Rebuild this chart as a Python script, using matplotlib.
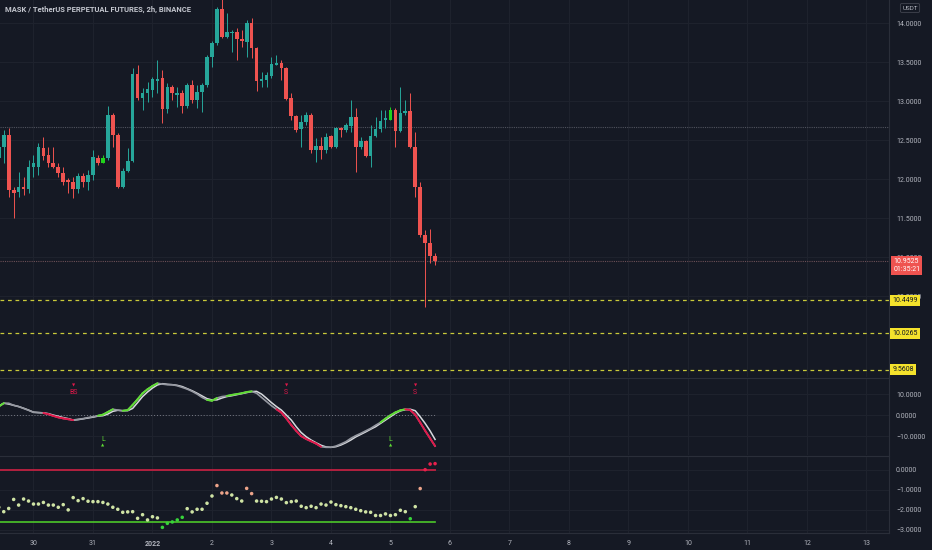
import numpy as np
import pandas as pd
import matplotlib.pyplot as plt
import matplotlib.transforms as mtransforms

plt.rcParams['font.family'] = ['Roboto', 'DejaVu Sans']

# 2h candles MASK/USDT perp, from 29 dec 10:00
times = pd.date_range('2021-12-29 10:00', periods=89, freq='2h')
opens = [12.269, 12.418, 12.568, 11.863, 11.841, 11.906, 11.871, 12.162, 12.162, 12.405,
         12.312, 12.213, 12.162, 12.077, 11.991, 11.970, 11.871, 12.042, 11.970, 12.055,
         12.269, 12.205, 12.269, 12.824, 12.568, 11.897, 12.111, 12.239, 13.350, 13.047,
         13.111, 13.145, 13.264, 13.294, 12.897, 13.179, 13.081, 13.102, 12.940, 13.205,
         13.017, 13.124, 13.209, 13.564, 13.752, 14.179, 13.829, 13.871, 13.893, 13.794,
         13.765, 14.008, 13.688, 13.260, 13.273, 13.324, 13.465, 13.487, 13.431, 13.038,
         12.812, 12.641, 12.735, 12.824, 12.376, 12.427, 12.376, 12.555, 12.418, 12.662,
         12.632, 12.683, 12.803, 12.418, 12.491, 12.299, 12.555, 12.641, 12.760, 12.760,
         12.888, 12.624, 12.846, 12.876, 12.418, 11.906, 11.286, 11.179, 11.017]
highs = [12.461, 12.632, 12.653, 11.906, 12.098, 12.034, 12.248, 12.312, 12.461, 12.547,
         12.418, 12.418, 12.205, 12.162, 12.012, 12.034, 12.077, 12.077, 12.119, 12.376,
         12.312, 12.312, 12.940, 12.854, 12.589, 12.141, 12.397, 13.423, 13.465, 13.166,
         13.252, 13.316, 13.529, 13.401, 13.230, 13.209, 13.188, 13.145, 13.230, 13.273,
         13.209, 13.230, 13.594, 13.777, 14.205, 14.330, 14.128, 13.914, 13.935, 13.914,
         14.042, 14.064, 13.700, 13.380, 13.380, 13.572, 13.594, 13.529, 13.444, 13.102,
         12.824, 12.824, 12.867, 12.846, 12.525, 12.547, 12.589, 12.568, 12.675, 12.675,
         12.718, 13.017, 12.910, 12.547, 12.504, 12.696, 12.803, 12.888, 12.888, 12.931,
         12.910, 13.179, 13.017, 13.102, 12.611, 11.970, 11.350, 11.358, 11.051]
lows = [12.205, 12.205, 11.777, 11.500, 11.777, 11.799, 11.820, 12.034, 12.055, 12.248,
        12.162, 12.141, 12.034, 11.927, 11.820, 11.756, 11.820, 11.906, 11.863, 11.991,
        12.183, 12.205, 12.248, 12.418, 11.884, 11.884, 12.098, 12.226, 13.017, 12.888,
        12.995, 13.060, 13.102, 12.726, 12.846, 13.017, 12.931, 12.854, 12.910, 12.974,
        12.910, 12.867, 13.188, 13.444, 13.722, 13.807, 13.807, 13.636, 13.529, 13.700,
        13.572, 13.551, 13.136, 13.188, 13.188, 13.294, 13.465, 13.273, 13.017, 12.760,
        12.611, 12.418, 12.696, 12.341, 12.226, 12.256, 12.341, 12.397, 12.397, 12.547,
        12.611, 12.611, 12.098, 12.384, 12.290, 12.162, 12.547, 12.611, 12.653, 12.760,
        12.418, 12.611, 12.824, 12.397, 11.777, 11.264, 10.363, 10.923, 10.901]
closes = [12.418, 12.568, 11.863, 11.829, 11.906, 11.871, 12.162, 12.205, 12.418, 12.299,
          12.205, 12.153, 12.077, 11.970, 11.970, 11.871, 12.042, 11.970, 12.055, 12.282,
          12.205, 12.273, 12.824, 12.568, 11.906, 12.111, 12.239, 13.350, 13.047, 13.111,
          13.153, 13.286, 13.286, 12.897, 13.179, 13.102, 13.102, 12.940, 13.205, 13.017,
          13.124, 13.209, 13.564, 13.752, 14.179, 13.820, 13.893, 13.888, 13.794, 13.769,
          14.008, 13.688, 13.260, 13.282, 13.333, 13.478, 13.487, 13.431, 13.025, 12.812,
          12.632, 12.735, 12.824, 12.376, 12.427, 12.376, 12.547, 12.410, 12.662, 12.632,
          12.696, 12.794, 12.418, 12.491, 12.299, 12.555, 12.641, 12.752, 12.782, 12.888,
          12.624, 12.854, 12.876, 12.418, 11.906, 11.286, 11.179, 11.017, 10.9525]

# oscillateur (ligne rapide / lente) et etat de tendance
fast = [4.2, 5.8, 5.8, 4.8, 4.2, 3.3, 2.4, 1.4, 1.3, 1.1,
        0.5, -0.3, -1.0, -1.5, -1.9, -2.3, -1.9, -1.6, -1.1, -0.7,
        -0.2, 0.3, 1.6, 2.9, 2.5, 2.2, 2.5, 5.0, 7.7, 10.6,
        12.5, 14.1, 15.4, 15.0, 14.7, 14.7, 14.2, 13.4, 12.6, 11.5,
        10.2, 8.6, 7.4, 7.0, 8.3, 9.0, 9.3, 9.8, 10.2, 10.6,
        11.2, 11.5, 10.6, 8.6, 6.6, 4.6, 2.9, 1.3, -1.5, -4.7,
        -7.5, -10.0, -11.4, -12.5, -13.6, -15.1, -15.4, -15.4, -14.8, -13.8,
        -12.7, -11.1, -9.8, -8.7, -7.5, -6.3, -4.8, -3.4, -1.6, 0.0,
        1.4, 2.4, 2.9, 2.5, 0.3, -3.5, -7.4, -11.1, -14.8]
slow = [4.5, 5.8, 5.4, 4.8, 4.2, 3.4, 2.5, 1.5, 1.3, 1.2,
        0.8, 0.1, -0.5, -1.1, -1.6, -2.3, -2.1, -1.7, -1.3, -0.9,
        -0.4, -0.2, 0.6, 1.9, 2.4, 2.2, 2.2, 3.3, 6.1, 9.0,
        11.2, 13.1, 14.6, 15.2, 14.9, 14.7, 14.4, 13.8, 12.8, 11.8,
        10.6, 9.3, 8.0, 7.4, 7.4, 8.3, 9.0, 9.4, 9.9, 10.4,
        10.9, 11.4, 11.5, 10.2, 8.2, 6.1, 4.2, 2.5, 0.1, -2.3,
        -5.5, -8.3, -10.3, -11.9, -13.2, -14.4, -15.2, -15.4, -15.1, -14.3,
        -13.2, -11.9, -10.4, -9.2, -8.0, -6.7, -5.5, -3.9, -2.3, -0.7,
        0.9, 2.1, 2.7, 2.9, 2.2, -0.7, -3.9, -7.5, -11.6]
trend = [1, 1, 0, 0, 0, 0, 0, 0, 0, 0,
         -1, -1, -1, -1, -1, -1, 0, 0, 0, 0,
         0, 1, 1, 1, 0, 0, 1, 1, 1, 1,
         1, 1, 1, 0, 0, 0, 0, 0, 0, 0,
         0, 0, 0, 1, 1, 0, 0, 1, 1, 1,
         1, 1, 0, 0, 0, 0, 0, -1, -1, -1,
         -1, -1, -1, -1, -1, -1, 0, 0, 0, 0,
         0, 0, 0, 0, 0, 0, 0, 0, 1, 1,
         1, 1, 1, -1, -1, -1, -1, -1, -1]
short_sig = {15: 'BS', 58: 'S', 84: 'S'}
long_sig = [21, 79]

# panneau des points
dots = [-1.87, -2.09, -1.93, -1.48, -1.76, -1.46, -1.56, -1.71, -1.71, -1.63,
        -1.76, -1.76, -1.87, -1.74, -2.00, -1.39, -1.54, -1.44, -1.57, -1.59,
        -1.59, -1.63, -1.71, -1.87, -1.97, -2.12, -2.10, -2.09, -2.42, -2.24,
        -2.50, -2.34, -2.40, -2.87, -2.67, -2.60, -2.50, -2.37, -1.94, -2.10,
        -1.97, -1.97, -1.67, -1.31, -0.79, -1.16, -1.16, -1.26, -1.44, -1.56,
        -0.93, -1.19, -1.56, -1.57, -1.59, -1.46, -1.38, -1.46, -1.64, -1.59,
        -1.56, -1.82, -1.89, -1.82, -1.89, -1.71, -1.76, -1.61, -1.74, -1.79,
        -1.84, -1.89, -1.97, -2.04, -2.10, -2.12, -2.28, -2.28, -2.20, -2.28,
        -2.24, -2.02, -2.09, -2.44, -1.84, -0.94, 0.00, 0.28, 0.30]
high_dots = [44, 45, 46, 50, 51, 85]
low_dots = [33, 34, 35, 36, 37, 83]
sell_dots = [86, 87, 88]
sell_level = 0.0
buy_level = -2.59

# niveaux horizontaux
levels = [10.4499, 10.0265, 9.5608]
last_price = 10.9525
countdown = '01:35:21'
ray_level = 12.674

price_ticks = [10.5, 11.0, 11.5, 12.0, 12.5, 13.0, 13.5, 14.0]
day_ticks = list(range(-2, 13))
day_labels = ['30', '31', '2022'] + [str(d) for d in range(2, 14)]

bg = '#151924'
grid = '#1e222d'
txt = '#b2b5be'
teal = '#26a69a'
red = '#ef5350'
lime = '#21d31c'
green = '#5fdc34'
crimson = '#e0184a'

# temps en jours depuis le 1er janvier
t = ((times - pd.Timestamp('2022-01-01')) / pd.Timedelta(days=1)).values
o = np.array(opens); h = np.array(highs); l = np.array(lows); c = np.array(closes)

fig = plt.figure(figsize=(9.32, 5.5), dpi=100, facecolor=bg)
W = 889 / 932
ax_p = fig.add_axes([0, 1 - 377 / 550, W, 377 / 550])
ax_o = fig.add_axes([0, 1 - 455 / 550, W, 77 / 550], sharex=ax_p)
ax_d = fig.add_axes([0, 1 - 533 / 550, W, 77 / 550], sharex=ax_p)

for ax in (ax_p, ax_o, ax_d):
    ax.set_facecolor(bg)
    for s in ('left', 'bottom', 'top'):
        ax.spines[s].set_visible(False)
    ax.spines['right'].set_color('#2a2e39')
    ax.yaxis.tick_right()
    ax.tick_params(axis='y', length=0, pad=5, labelsize=5, labelcolor=txt)
    ax.tick_params(axis='x', length=0)
    for d in day_ticks:
        ax.axvline(d, color=grid, lw=0.8, zorder=0)
for ax in (ax_o, ax_d):
    ax.spines['top'].set_visible(True)
    ax.spines['top'].set_color('#2a2e39')
ax_d.spines['bottom'].set_visible(True)
ax_d.spines['bottom'].set_color('#2a2e39')

ax_p.set_xlim(-2.563, 12.38)

# prix
cols = np.where(c >= o, teal, red).astype(object)
for i in long_sig:
    cols[i] = lime
ax_p.vlines(t, l, h, colors=list(cols), lw=0.7, zorder=3)
body = np.maximum(np.abs(c - o), 0.012)
ax_p.bar(t, body, bottom=np.minimum(o, c), width=0.062, color=list(cols), zorder=4)

ax_p.set_yticks(price_ticks)
ax_p.set_yticklabels(['%.4f' % v for v in price_ticks])
for v in price_ticks:
    ax_p.axhline(v, color=grid, lw=0.8, zorder=0)
ax_p.set_ylim(9.465, 14.299)
plt.setp(ax_p.get_xticklabels(), visible=False)

ax_p.axhline(ray_level, color='#50535e', lw=0.8, ls=(0, (1, 1)), zorder=1)
ax_p.axhline(last_price, color='#6b4f56', lw=0.8, ls=(0, (1, 1)), zorder=1)
for lv in levels:
    ax_p.axhline(lv, color='#c9c93a', lw=0.9, ls=(0, (3, 3)), zorder=2)

tr = mtransforms.blended_transform_factory(ax_p.transAxes, ax_p.transData)
for lv in levels:
    ax_p.text(1.0 + 3.5 / 889, lv, '%.4f' % lv, transform=tr, fontsize=5, color='#131722',
              va='center', ha='left', clip_on=False, zorder=10,
              bbox=dict(boxstyle='square,pad=0.3', fc='#f4e22c', ec='none'))
ax_p.annotate('%.4f\n%s' % (last_price, countdown), xy=(1.0, last_price), xycoords=tr,
              xytext=(3, -3.4), textcoords='offset points', fontsize=5, color='white',
              va='center', ha='left', linespacing=1.15, annotation_clip=False, zorder=10,
              bbox=dict(boxstyle='square,pad=0.3', fc=red, ec='none'))

fig.text(5 / 932, 1 - 9 / 550, 'MASK / TetherUS PERPETUAL FUTURES, 2h, BINANCE',
         fontsize=5.5, color='#c3c6ce', weight='bold', va='center', ha='left')
fig.text(910 / 932, 1 - 8 / 550, 'USDT', fontsize=4.5, color=txt, va='center', ha='center',
         bbox=dict(boxstyle='round,pad=0.3,rounding_size=0.2', fc=bg, ec='#434651', lw=0.6))

# oscillateur
ax_o.set_ylim(-19.09, 17.93)
ax_o.set_yticks([10, 0, -10])
ax_o.set_yticklabels(['10.0000', '0.0000', '\u221210.0000'])
for v in (10, 0, -10):
    ax_o.axhline(v, color=grid, lw=0.8, zorder=0)
ax_o.plot([t[0], t[-1]], [0, 0], color='#787b86', lw=0.7, ls=(0, (1, 2)), zorder=1)
ax_o.plot(t, slow, color='#d8dade', lw=1.1, zorder=3)
ax_o.plot(t, fast, color='#9598a1', lw=1.2, zorder=4)
for i in range(1, len(t)):
    if trend[i] != 0:
        ax_o.plot(t[i - 1:i + 1], fast[i - 1:i + 1], color=green if trend[i] > 0 else crimson,
                  lw=1.4, zorder=5, solid_capstyle='round')
for i, lab in short_sig.items():
    ax_o.text(t[i], 14.3, '\u25bc', color=crimson, fontsize=3, ha='center', va='center')
    ax_o.text(t[i], 11.0, lab, color=crimson, fontsize=5, ha='center', va='center')
for i in long_sig:
    ax_o.text(t[i], -11.8, 'L', color=green, fontsize=5, ha='center', va='center')
    ax_o.text(t[i], -14.4, '\u25b2', color=green, fontsize=3, ha='center', va='center')
plt.setp(ax_o.get_xticklabels(), visible=False)

# points
ax_d.set_ylim(-3.15, 0.68)
ax_d.set_yticks([0, -1, -2, -3])
ax_d.set_yticklabels(['0.0000', '\u22121.0000', '\u22122.0000', '\u22123.0000'])
for v in (0, -1, -2, -3):
    ax_d.axhline(v, color=grid, lw=0.8, zorder=0)
ax_d.plot([t[0], t[-1]], [sell_level, sell_level], color='#b3203f', lw=1.4, zorder=2)
ax_d.plot([t[0], t[-1]], [buy_level, buy_level], color='#4cc72a', lw=1.2, zorder=2)
dcols = ['#cfe3a4'] * len(dots)
for i in high_dots:
    dcols[i] = '#eda48a'
for i in low_dots:
    dcols[i] = '#37d33a'
for i in sell_dots:
    dcols[i] = '#e8204c'
ax_d.scatter(t, dots, s=6.5, c=dcols, linewidths=0, zorder=3)

ax_d.set_xticks(day_ticks)
ax_d.set_xticklabels(day_labels)
ax_d.tick_params(axis='x', labelsize=5, labelcolor=txt, pad=5)
for lab in ax_d.get_xticklabels():
    if lab.get_text() == '2022':
        lab.set_fontweight('bold')

fig.savefig('out.png', dpi=100, facecolor=bg)
